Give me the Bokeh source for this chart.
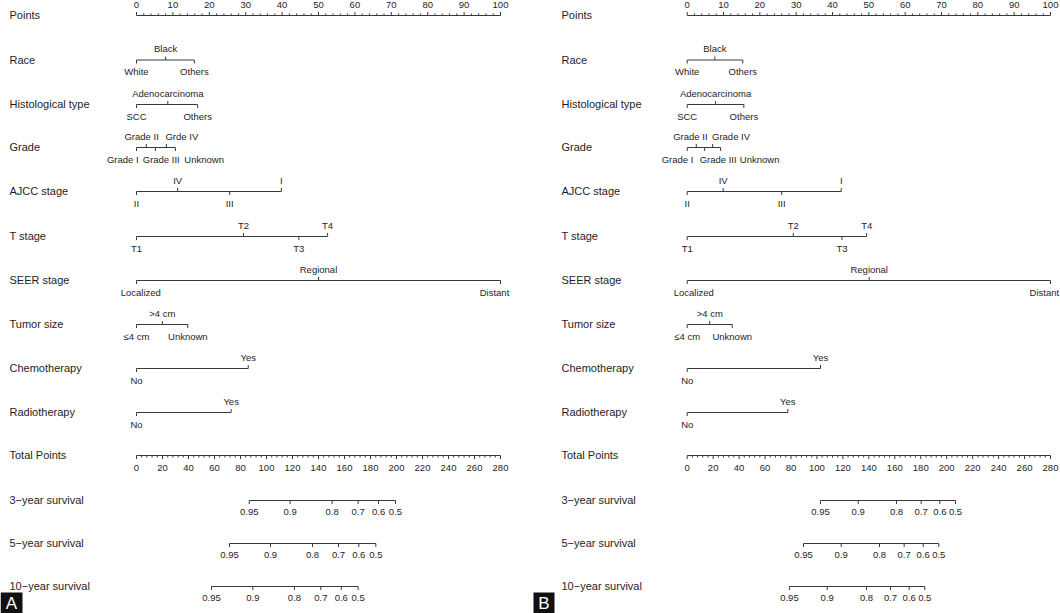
from bokeh.plotting import figure
from bokeh.layouts import row
from bokeh.models import Range1d
from bokeh.embed import file_html
from bokeh.resources import INLINE
from bokeh.core.properties import value

# ---------------- data ----------------
row_names = ["Points", "Race", "Histological type", "Grade", "AJCC stage", "T stage",
             "SEER stage", "Tumor size", "Chemotherapy", "Radiotherapy", "Total Points",
             "3\u2212year survival", "5\u2212year survival", "10\u2212year survival"]

points_ticks = list(range(0, 101, 10))
total_ticks = list(range(0, 281, 20))

race_levels = ["White", "Black", "Others"]
hist_levels = ["SCC", "Adenocarcinoma", "Others"]
grade_levels_a = ["Grade I", "Grade II", "Grade III", "Grde IV", "Unknown"]
grade_levels_b = ["Grade I", "Grade II", "Grade III", "Grade IV", "Unknown"]
ajcc_levels = ["II", "IV", "III", "I"]
t_levels = ["T1", "T2", "T3", "T4"]
seer_levels = ["Localized", "Regional", "Distant"]
size_levels = ["\u22644 cm", ">4 cm", "Unknown"]
chemo_levels = ["No", "Yes"]
radio_levels = ["No", "Yes"]

# panel A points
a_race = [0, 8.0, 15.9]
a_hist = [0, 8.6, 16.8]
a_grade = [0, 2.7, 5.2, 8.2, 10.7]
a_ajcc = [0, 11.3, 25.6, 39.8]
a_t = [0, 29.4, 44.6, 52.5]
a_seer = [0, 50.0, 100]
a_size = [0, 7.1, 14.1]
a_chemo = [0, 30.7]
a_radio = [0, 26.0]

# panel B points
b_race = [0, 7.6, 15.3]
b_hist = [0, 7.8, 15.6]
b_grade = [0, 2.5, 4.8, 7.0, 9.2]
b_ajcc = [0, 9.9, 26.0, 42.4]
b_t = [0, 29.2, 42.6, 49.4]
b_seer = [0, 50.1, 100]
b_size = [0, 6.2, 12.4]
b_chemo = [0, 36.7]
b_radio = [0, 27.7]

surv_labels = ["0.95", "0.9", "0.8", "0.7", "0.6", "0.5"]
# total points at which each survival probability is reached
a_surv3 = [86.7, 118.2, 150.5, 170.5, 186.2, 199.2]
a_surv5 = [71.5, 103.1, 135.4, 155.4, 171.0, 184.1]
a_surv10 = [57.7, 89.5, 121.5, 141.8, 157.5, 170.5]
b_surv3 = [102.7, 131.8, 161.3, 180.3, 194.7, 206.8]
b_surv5 = [89.6, 118.7, 148.2, 167.2, 181.9, 193.9]
b_surv10 = [78.8, 107.9, 138.2, 156.7, 171.1, 183.1]

TOTAL_MAX = 280.0
POINTS_MAX = 100.0

# ---------------- layout (reference pixel space) ----------------
ROW_Y = [15, 59.5, 104, 147, 191, 236, 280, 324, 368, 412, 455, 500, 543, 586]
LABEL_OFF = 11.5
TICK = 3.5
FONT = value("Liberation Sans")
LINE_COL = "#3a3a3a"
TEXT_COL = "#1e1e1e"

panels = [
    dict(letter="A", left=0, right=530, x0=136.0, ppp=3.64, name_x=9, box=(0, 22),
         vars=[(race_levels, a_race), (hist_levels, a_hist), (grade_levels_a, a_grade),
               (ajcc_levels, a_ajcc), (t_levels, a_t), (seer_levels, a_seer),
               (size_levels, a_size), (chemo_levels, a_chemo), (radio_levels, a_radio)],
         surv=[a_surv3, a_surv5, a_surv10],
         nudges={2: [-13.7, -4.7, 5.8, 15.5, 28.7], 5: [4.3, 0, -6.0]}),
    dict(letter="B", left=530, right=1060, x0=686.7, ppp=3.633, name_x=561, box=(533, 554),
         vars=[(race_levels, b_race), (hist_levels, b_hist), (grade_levels_b, b_grade),
               (ajcc_levels, b_ajcc), (t_levels, b_t), (seer_levels, b_seer),
               (size_levels, b_size), (chemo_levels, b_chemo), (radio_levels, b_radio)],
         surv=[b_surv3, b_surv5, b_surv10],
         nudges={2: [-9.7, -5.9, 13.5, 18.4, 39.0], 5: [6.6, 0, -6.2]}),
]


def build(cfg):
    ref2pt = lambda rx: (rx - cfg["x0"]) / cfg["ppp"]
    p = figure(width=530, height=613,
               x_range=Range1d(ref2pt(cfg["left"]), ref2pt(cfg["right"])),
               y_range=Range1d(613, 0),
               x_axis_type=None, y_axis_type=None,
               output_backend="svg", toolbar_location=None, min_border=0)
    p.grid.visible = False
    p.outline_line_color = None
    p.background_fill_color = "white"
    p.border_fill_color = "white"

    tscale = POINTS_MAX / TOTAL_MAX

    x0s, y0s, x1s, y1s = [], [], [], []
    def seg(a, b, c, d):
        x0s.append(a); y0s.append(b); x1s.append(c); y1s.append(d)

    small_t = dict(tx=[], ty=[], tt=[])
    def lab(x, y, t):
        small_t["tx"].append(x); small_t["ty"].append(y); small_t["tt"].append(t)

    # Points axis (labels above, ticks up)
    y = ROW_Y[0]
    seg(0, y, POINTS_MAX, y)
    for v in range(0, 101, 2):
        ln = TICK if v % 10 == 0 else 2.0
        seg(v, y, v, y - ln)
    for v in points_ticks:
        lab(v, y - 10.5, str(v))

    # variable rows
    for i, (levels, vals) in enumerate(cfg["vars"]):
        y = ROW_Y[i + 1]
        seg(min(vals), y, max(vals), y)
        nud = cfg["nudges"].get(i, [0] * len(vals))
        order = sorted(range(len(vals)), key=lambda k: vals[k])
        for rank, k in enumerate(order):
            below = (rank % 2 == 0)
            d = 1 if below else -1
            seg(vals[k], y, vals[k], y + d * TICK)
            lab(vals[k] + nud[k] / cfg["ppp"], y + d * LABEL_OFF, levels[k])

    # Total points axis (labels below, ticks down)
    y = ROW_Y[10]
    seg(0, y, TOTAL_MAX * tscale, y)
    for v in range(0, 281, 4):
        ln = TICK if v % 20 == 0 else 2.0
        seg(v * tscale, y, v * tscale, y + ln)
    for v in total_ticks:
        lab(v * tscale, y + 12, str(v))

    # survival rows
    for j, sv in enumerate(cfg["surv"]):
        y = ROW_Y[11 + j]
        seg(min(sv) * tscale, y, max(sv) * tscale, y)
        for v, t in zip(sv, surv_labels):
            seg(v * tscale, y, v * tscale, y + TICK)
            lab(v * tscale, y + LABEL_OFF, t)

    p.segment(x0s, y0s, x1s, y1s, line_color=LINE_COL, line_width=1)
    p.text(small_t["tx"], small_t["ty"], text=small_t["tt"], text_font=FONT,
           text_font_size="9.5px", text_align="center", text_baseline="middle",
           text_color=TEXT_COL)

    # row names
    nx = ref2pt(cfg["name_x"])
    p.text([nx] * len(row_names), [yy - 0.5 for yy in ROW_Y], text=row_names, text_font=FONT,
           text_font_size="11px", text_align="left", text_baseline="middle",
           text_color=TEXT_COL)

    # panel letter
    bx0, bx1 = cfg["box"]
    p.quad(left=[ref2pt(bx0)], right=[ref2pt(bx1)], top=[592], bottom=[613],
           fill_color="#111111", line_color=None)
    p.text([ref2pt((bx0 + bx1) / 2)], [603], text=[cfg["letter"]], text_font=FONT,
           text_font_size="17px", text_align="center", text_baseline="middle",
           text_color="white")
    return p


pa = build(panels[0])
pb = build(panels[1])
layout = row(pa, pb)

open("out.html", "w").write(file_html(layout, INLINE))
